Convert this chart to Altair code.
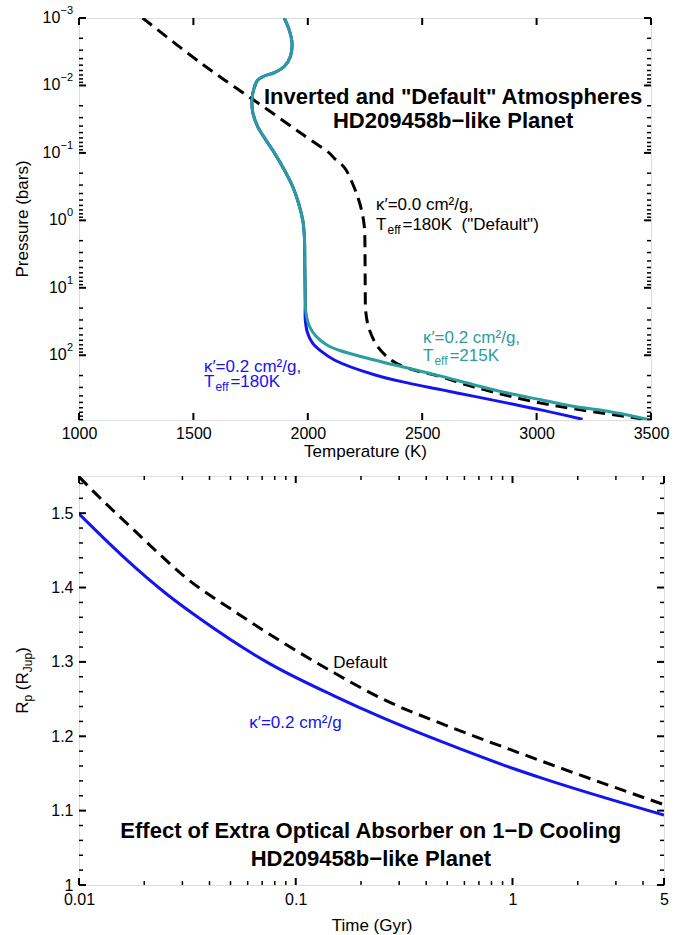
import altair as alt
import pandas as pd

FONT = "Liberation Sans"
BLUE = "#1414F0"
TEAL = "#2A9D9F"

# ---------------- Top panel data: P-T profiles ----------------
default_T = [1278, 1533, 1679, 1825, 1970, 2093, 2116, 2145, 2167, 2195, 2218, 2235, 2247,
             2250, 2251, 2254, 2269, 2305, 2364, 2436, 2582, 2728, 3019, 3500]
default_logP = [-3.0, -2.33, -1.98, -1.64, -1.29, -1.0, -0.92, -0.84, -0.75, -0.55, -0.35,
                -0.15, 0.09, 0.49, 0.98, 1.375, 1.62, 1.87, 2.07, 2.19, 2.32, 2.47, 2.71, 2.96]

inv_upper_T = [1897, 1919, 1931, 1924, 1897, 1854, 1810, 1781, 1766, 1756, 1760, 1781,
               1817, 1854, 1897, 1934, 1960, 1978, 1985, 1987, 1989]
inv_upper_logP = [-3.0, -2.82, -2.625, -2.43, -2.28, -2.19, -2.14, -2.08, -1.97, -1.79,
                  -1.59, -1.39, -1.19, -1.0, -0.75, -0.5, -0.25, 0.0, 0.24, 0.7, 1.2]

teal_lower_T = [1992, 2007, 2036, 2080, 2140, 2291, 2436, 2582, 2728, 2874, 3019, 3165, 3311, 3500]
teal_lower_logP = [1.375, 1.57, 1.72, 1.84, 1.93, 2.07, 2.19, 2.31, 2.44, 2.56, 2.66, 2.76, 2.83, 2.96]

blue_lower_T = [1989, 1999, 2021, 2058, 2116, 2291, 2436, 2582, 2728, 2874, 3019, 3201]
blue_lower_logP = [1.47, 1.67, 1.82, 1.94, 2.07, 2.29, 2.41, 2.51, 2.61, 2.71, 2.81, 2.95]

T_ticks = [1000, 1500, 2000, 2500, 3000, 3500]
P_ticks = [1e-3, 1e-2, 1e-1, 1e0, 1e1, 1e2]
P_tick_exponents = ["\u22123", "\u22122", "\u22121", "0", "1", "2"]

# ---------------- Bottom panel data: radius evolution ----------------
time_default = [0.01, 0.01265, 0.01738, 0.0231, 0.0306, 0.0521, 0.0918, 0.151, 0.248, 0.5, 1.0, 2.0, 5.0]
R_default = [1.549, 1.519, 1.481, 1.447, 1.415, 1.368, 1.322, 1.285, 1.251, 1.214, 1.181, 1.149, 1.108]
time_absorb = [0.01, 0.0158, 0.0257, 0.0366, 0.0743, 0.151, 0.251, 0.468, 1.0, 1.355, 5.0]
R_absorb = [1.499, 1.443, 1.390, 1.357, 1.299, 1.254, 1.225, 1.193, 1.157, 1.144, 1.094]

t_ticks = [0.01, 0.1, 1, 5]
t_minor = [0.02, 0.03, 0.04, 0.05, 0.06, 0.07, 0.08, 0.09,
           0.2, 0.3, 0.4, 0.5, 0.6, 0.7, 0.8, 0.9, 2, 3, 4]
R_ticks = [1.0, 1.1, 1.2, 1.3, 1.4, 1.5]
R_minor = [1.02, 1.04, 1.06, 1.08, 1.12, 1.14, 1.16, 1.18, 1.22, 1.24, 1.26, 1.28,
           1.32, 1.34, 1.36, 1.38, 1.42, 1.44, 1.46, 1.48, 1.52, 1.54]

W1, H1 = 572, 402
W2, H2 = 585, 409
MAJ, MIN = 7, 4

# ---------------- helpers ----------------
def path_df(xs, ys):
    return pd.DataFrame({"x": xs, "y": ys, "i": list(range(len(xs)))})

sx1 = alt.Scale(domain=[1000, 3500], nice=False, zero=False)
sy1 = alt.Scale(type="log", domain=[1e-3, 10 ** 2.96], reverse=True, nice=False)
sx2 = alt.Scale(type="log", domain=[0.01, 5], nice=False)
sy2 = alt.Scale(domain=[1.0, 1.55], nice=False, zero=False)

common_axis = dict(ticks=False, domain=False, grid=False, labelFont=FONT, labelFontSize=16,
                   labelColor="black", titleFont=FONT, titleFontSize=17, titleFontWeight="normal",
                   titleColor="black", labelOverlap=False, labelFlush=False)

ax1 = alt.Axis(values=T_ticks, format="d", title="Temperature (K)", labelPadding=5,
               titlePadding=2, **common_axis)
ay1 = alt.Axis(values=P_ticks, title=None, labels=False, **common_axis)
ax2 = alt.Axis(values=t_ticks, format="~g", title="Time (Gyr)", labelPadding=6,
               titlePadding=10, **common_axis)
ay2 = alt.Axis(values=R_ticks, format="~g", title=None, labelPadding=6, **common_axis)


def X1(f="x"):
    return alt.X(f"{f}:Q", scale=sx1, axis=ax1)


def Y1(f="y"):
    return alt.Y(f"{f}:Q", scale=sy1, axis=ay1)


def X2(f="x"):
    return alt.X(f"{f}:Q", scale=sx2, axis=ax2)


def Y2(f="y"):
    return alt.Y(f"{f}:Q", scale=sy2, axis=ay2)


def line(df, X, Y, color, interp, dash=None):
    kw = dict(color=color, strokeWidth=3, clip=True, interpolate=interp)
    if dash:
        kw["strokeDash"] = dash
    return alt.Chart(df).mark_line(**kw).encode(x=X(), y=Y(), order=alt.Order("i:Q"))


def text(X, Y, x, y, s, size=17, color="black", weight="normal", align="left", dx=0, dy=0):
    df = pd.DataFrame({"x": [x], "y": [y], "s": [s]})
    return alt.Chart(df).mark_text(font=FONT, fontSize=size, color=color, fontWeight=weight,
                                   align=align, baseline="middle", dx=dx, dy=dy).encode(
        x=X(), y=Y(), text="s:N")


def yticks(vals, Y, W, L, sw):
    df = pd.DataFrame({"v": vals})
    left = alt.Chart(df).mark_rule(color="black", strokeWidth=sw).encode(
        y=Y("v"), x=alt.value(0), x2=alt.value(L))
    right = alt.Chart(df).mark_rule(color="black", strokeWidth=sw).encode(
        y=Y("v"), x=alt.value(W - L), x2=alt.value(W))
    return left + right


def xticks(vals, X, H, L, sw):
    df = pd.DataFrame({"v": vals})
    bot = alt.Chart(df).mark_rule(color="black", strokeWidth=sw).encode(
        x=X("v"), y=alt.value(H - L), y2=alt.value(H))
    top = alt.Chart(df).mark_rule(color="black", strokeWidth=sw).encode(
        x=X("v"), y=alt.value(0), y2=alt.value(L))
    return bot + top


def pow_labels(vals, exps, Y):
    # "10" with a raised exponent, right-aligned just left of the axis
    df = pd.DataFrame({"v": vals, "e": exps,
                       "w": [len(e) * 6.3 for e in exps]})
    ex = alt.Chart(df).mark_text(font=FONT, fontSize=11, color="black", align="right",
                                 baseline="middle", dy=-7).encode(
        y=Y("v"), x=alt.value(-6), text="e:N")
    base = alt.Chart(df).transform_calculate(
        px="-6 - datum.w").mark_text(font=FONT, fontSize=16, color="black", align="right",
                                     baseline="middle").encode(
        y=Y("v"), x=alt.X("px:Q", scale=None), text=alt.value("10"))
    return ex + base


def teff_label(X, Y, x, y, rest, color):
    return (text(X, Y, x, y, "T", color=color)
            + text(X, Y, x, y, "eff", size=12, color=color, dx=11.5, dy=5)
            + text(X, Y, x, y, rest, color=color, dx=26.5))


def ytitle(pieces, H):
    # pieces: (text, font size, baseline shift, gap before) drawn rotated on the left
    cw = {"R": 0.722, "p": 0.556, "(": 0.333, ")": 0.333, "J": 0.5, "u": 0.556}
    total = 0.0
    geo = []
    for s, size, dy, gap in pieces:
        w = sum(cw.get(ch, 0.556) for ch in s) * size
        geo.append((total + gap, w))
        total += gap + w
    layers = []
    for (s, size, dy, gap), (start, w) in zip(pieces, geo):
        df = pd.DataFrame({"s": [s]})
        layers.append(alt.Chart(df).mark_text(font=FONT, fontSize=size, color="black", angle=270,
                                              align="left", baseline="middle",
                                              dx=start - total / 2, dy=dy).encode(
            x=alt.value(-56), y=alt.value(H / 2), text="s:N"))
    out = layers[0]
    for l in layers[1:]:
        out = out + l
    return out


# ---------------- top panel ----------------
P = lambda lst: [10 ** v for v in lst]
df_default = path_df(default_T, P(default_logP))
df_blue = path_df(inv_upper_T + blue_lower_T, P(inv_upper_logP + blue_lower_logP))
df_teal = path_df(inv_upper_T + teal_lower_T, P(inv_upper_logP + teal_lower_logP))

P_minor = [m * 10 ** k for k in range(-3, 3) for m in range(2, 10) if m * 10 ** k < 10 ** 2.96]

pressure_title = alt.Chart(pd.DataFrame({"s": ["Pressure (bars)"]})).mark_text(
    font=FONT, fontSize=17, color="black", angle=270, align="center", baseline="middle").encode(
    x=alt.value(-56), y=alt.value(H1 / 2), text="s:N")

top = (
    line(df_default, X1, Y1, "black", "catmull-rom", dash=[12, 7])
    + line(df_blue, X1, Y1, BLUE, "catmull-rom")
    + line(df_teal, X1, Y1, TEAL, "catmull-rom")
    + yticks(P_ticks, Y1, W1, MAJ, 2)
    + yticks(P_minor, Y1, W1, MIN, 1.5)
    + xticks(T_ticks, X1, H1, MAJ, 2)
    + pow_labels(P_ticks, P_tick_exponents, Y1)
    + text(X1, Y1, 2635, 10 ** -1.83, 'Inverted and "Default" Atmospheres', size=22, weight="bold", align="center")
    + text(X1, Y1, 2635, 10 ** -1.47, "HD209458b\u2212like Planet", size=22, weight="bold", align="center")
    + text(X1, Y1, 2298, 10 ** -0.23, "\u03ba\u2032=0.0 cm\u00b2/g,")
    + teff_label(X1, Y1, 2298, 10 ** 0.07, '=180K\u00a0\u00a0("Default")', "black")
    + text(X1, Y1, 2503, 10 ** 1.74, "\u03ba\u2032=0.2 cm\u00b2/g,", color=TEAL)
    + teff_label(X1, Y1, 2503, 10 ** 2.01, "=215K", TEAL)
    + text(X1, Y1, 1546, 10 ** 2.17, "\u03ba\u2032=0.2 cm\u00b2/g,", color=BLUE)
    + teff_label(X1, Y1, 1546, 10 ** 2.39, "=180K", BLUE)
    + pressure_title
).properties(width=W1, height=H1)

# ---------------- bottom panel ----------------
df_def2 = path_df(time_default, R_default)
df_abs2 = path_df(time_absorb, R_absorb)

bottom = (
    line(df_def2, X2, Y2, "black", "monotone", dash=[12, 7])
    + line(df_abs2, X2, Y2, BLUE, "monotone")
    + yticks(R_ticks, Y2, W2, MAJ, 2)
    + yticks(R_minor, Y2, W2, MIN, 1.5)
    + xticks(t_ticks, X2, H2, MAJ, 2)
    + xticks(t_minor, X2, H2, MIN, 1.5)
    + text(X2, Y2, 0.149, 1.299, "Default")
    + text(X2, Y2, 0.061, 1.218, "\u03ba\u2032=0.2 cm\u00b2/g", color=BLUE)
    + text(X2, Y2, 0.222, 1.072, "Effect of Extra Optical Absorber on 1\u2212D Cooling", size=22, weight="bold", align="center")
    + text(X2, Y2, 0.222, 1.035, "HD209458b\u2212like Planet", size=22, weight="bold", align="center")
    + ytitle([("R", 17, 0, 0), ("p", 12, 5, 0), ("(R", 17, 0, 4.7), ("Jup", 12, 5, 0), (")", 17, 0, 0)], H2)
).properties(width=W2, height=H2)

chart = alt.vconcat(top, bottom, spacing=14).properties(
    padding={"left": 13, "top": 4, "right": 5, "bottom": 5}
).configure_view(stroke="black", strokeWidth=2.5).configure(background="white")

chart.save("out.html", embed_options={"renderer": "svg", "actions": False})
